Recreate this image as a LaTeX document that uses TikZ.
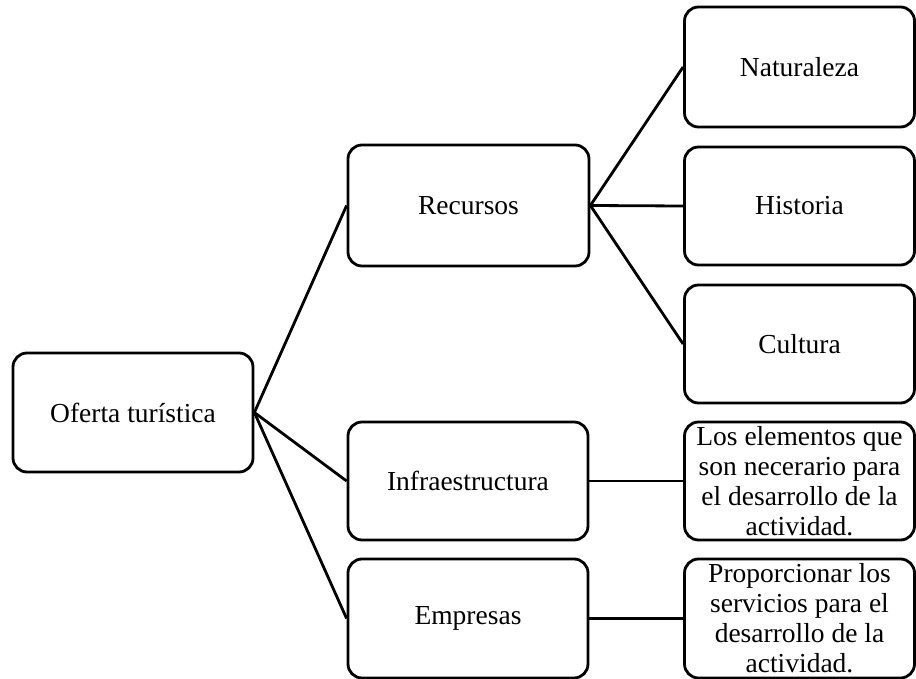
\documentclass[tikz,border=0pt]{standalone}
\usepackage{fontspec}
\setmainfont{Liberation Serif}
\begin{document}
\begin{tikzpicture}[x=1pt,y=-1pt,
  box/.style={draw=black,line width=2.8pt,rounded corners=14pt,fill=white,align=center,
    font=\fontsize{27.5}{30}\selectfont,inner sep=0pt},
  conn/.style={draw=black,line width=2.8pt}]
\useasboundingbox (0,0) rectangle (916,679);
\node[box,minimum width=240pt,minimum height=119pt] (of) at (133,412.5) {Oferta turística};
\node[box,minimum width=241pt,minimum height=121pt] (rec) at (468.5,205.5) {Recursos};
\node[box,minimum width=240pt,minimum height=118pt] (inf) at (468,481) {Infraestructura};
\node[box,minimum width=240pt,minimum height=119pt] (emp) at (468,618.5) {Empresas};
\node[box,minimum width=230pt,minimum height=120pt] (nat) at (799.5,67) {Naturaleza};
\node[box,minimum width=230pt,minimum height=118pt] (his) at (799.5,206) {Historia};
\node[box,minimum width=230pt,minimum height=118pt] (cul) at (799.5,344) {Cultura};
\node[box,minimum width=230pt,minimum height=118pt] (ele) at (799.5,481) {Los elementos que\\son necerario para\\el desarrollo de la\\actividad.};
\node[box,minimum width=230pt,minimum height=119pt] (pro) at (799.5,618.5) {Proporcionar los\\servicios para el\\desarrollo de la\\actividad.};
\draw[conn] (of.east) -- (rec.west);
\draw[conn] (of.east) -- (inf.west);
\draw[conn] (of.east) -- (emp.west);
\draw[conn] (rec.east) -- (nat.west);
\draw[conn] (rec.east) -- (his.west);
\draw[conn] (rec.east) -- (cul.west);
\draw[conn] (inf.east) -- (ele.west);
\draw[conn] (emp.east) -- (pro.west);
\end{tikzpicture}
\end{document}
